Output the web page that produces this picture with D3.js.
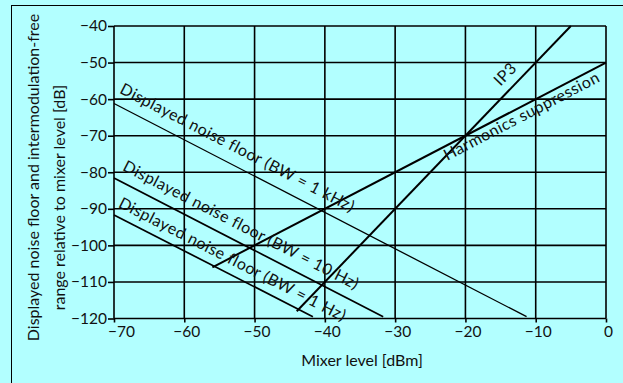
<!DOCTYPE html>
<html>
<head>
<meta charset="utf-8">
<script src="https://cdn.jsdelivr.net/npm/d3@7"></script>
<style>
  html, body { margin: 0; padding: 0; background: #b2ffff; }
  svg { display: block; }
  text { font-family: Lato, "Noto Sans", sans-serif; fill: #111; }
</style>
</head>
<body>
<svg id="chart" width="623" height="383"></svg>
<script>
// Axis ticks
const xTickValues = [-70, -60, -50, -40, -30, -20, -10, 0];
const yTickValues = [-40, -50, -60, -70, -80, -90, -100, -110, -120];

// Curves: [mixer level dBm, relative level dB] end points
const noise1kHz = [[-70, -61.2], [-11.3, -119.5]];
const noise10Hz = [[-70, -81.6], [-31.7, -119.5]];
const noise1Hz  = [[-70, -91.7], [-41.7, -119.5]];
const harmonics = [[-56, -106], [0, -50]];
const ip3       = [[-44, -118], [-5, -40]];

const curveLabels = [
  "Displayed noise floor (BW = 1 kHz)",
  "Displayed noise floor (BW = 10 Hz)",
  "Displayed noise floor (BW = 1 Hz)",
  "Harmonics suppression",
  "IP3"
];
const xTitle = "Mixer level [dBm]";
const yTitleLines = ["Displayed noise floor and intermodulation-free", "range relative to mixer level [dB]"];

const svg = d3.select("#chart");
const x = d3.scaleLinear().domain([-70, 0]).range([114, 606]);
const y = d3.scaleLinear().domain([-120, -40]).range([318.5, 26]);

// outer frame (runs off the right and bottom edges)
svg.append("rect")
  .attr("x", 11.5).attr("y", 5.5).attr("width", 700).attr("height", 500)
  .attr("fill", "none").attr("stroke", "#000").attr("stroke-width", 1);

const fmt = d => d < 0 ? "\u2212" + Math.abs(d) : String(d);

// grid
const grid = svg.append("g").attr("stroke", "#000").attr("stroke-width", 1.6);
grid.selectAll("line.v").data(xTickValues).join("line")
  .attr("class", "v")
  .attr("x1", d => x(d)).attr("x2", d => x(d))
  .attr("y1", y(-40)).attr("y2", y(-120));
grid.selectAll("line.h").data(yTickValues).join("line")
  .attr("class", "h")
  .attr("x1", x(-70)).attr("x2", x(0))
  .attr("y1", d => y(d)).attr("y2", d => y(d));

// axes
const xAxis = svg.append("g")
  .attr("transform", `translate(0,${y(-120)})`)
  .call(d3.axisBottom(x).tickValues(xTickValues).tickSize(4).tickPadding(3).tickFormat(fmt));
const yAxis = svg.append("g")
  .attr("transform", `translate(${x(-70)},0)`)
  .call(d3.axisLeft(y).tickValues(yTickValues).tickSize(6).tickPadding(1).tickFormat(fmt));
[xAxis, yAxis].forEach(a => {
  a.select(".domain").remove();
  a.selectAll(".tick line").attr("stroke", "#000").attr("stroke-width", 1.6);
  a.selectAll("text").attr("font-size", 15.5).attr("fill", "#111")
    .style("font-family", "Lato, 'Noto Sans', sans-serif");
});
xAxis.selectAll(".tick text").attr("dx", d => d === -70 ? 7 : 2);

// curves
const line = d3.line().x(d => x(d[0])).y(d => y(d[1]));
const curves = [
  { pts: noise1kHz, w: 1.3 },
  { pts: noise10Hz, w: 1.7 },
  { pts: noise1Hz,  w: 1.7 },
  { pts: harmonics, w: 2 },
  { pts: ip3,       w: 2 }
];
svg.append("g").selectAll("path").data(curves).join("path")
  .attr("d", d => line(d.pts))
  .attr("fill", "none").attr("stroke", "#000").attr("stroke-width", d => d.w);

// labels written along their curves
function labelAlong(pts, xd, offset, text, anchor) {
  const p0 = [x(pts[0][0]), y(pts[0][1])], p1 = [x(pts[1][0]), y(pts[1][1])];
  const ang = Math.atan2(p1[1] - p0[1], p1[0] - p0[0]) * 180 / Math.PI;
  const t = (xd - pts[0][0]) / (pts[1][0] - pts[0][0]);
  const yd = pts[0][1] + t * (pts[1][1] - pts[0][1]);
  svg.append("text")
    .attr("transform", `translate(${x(xd)},${y(yd)}) rotate(${ang})`)
    .attr("y", offset)
    .attr("text-anchor", anchor)
    .attr("font-size", 16)
    .attr("letter-spacing", 0.5)
    .text(text);
}
labelAlong(noise1kHz, -70.1, -12, curveLabels[0], "start");
labelAlong(noise10Hz, -69.6, -11, curveLabels[1], "start");
labelAlong(noise1Hz,  -70.1, -9,  curveLabels[2], "start");
labelAlong(harmonics, -23.5, 14,  curveLabels[3], "start");
labelAlong(ip3,       -12.9, -8.5, curveLabels[4], "middle");

// axis titles
svg.append("text")
  .attr("x", 362).attr("y", 366)
  .attr("text-anchor", "middle").attr("font-size", 16)
  .text(xTitle);
svg.selectAll("text.ytitle").data(yTitleLines).join("text")
  .attr("class", "ytitle")
  .attr("transform", (d, i) => i === 0 ? "translate(39,177.5) rotate(-90)" : "translate(65,197.5) rotate(-90)")
  .attr("text-anchor", "middle").attr("font-size", 16)
  .text(d => d);
</script>
</body>
</html>
